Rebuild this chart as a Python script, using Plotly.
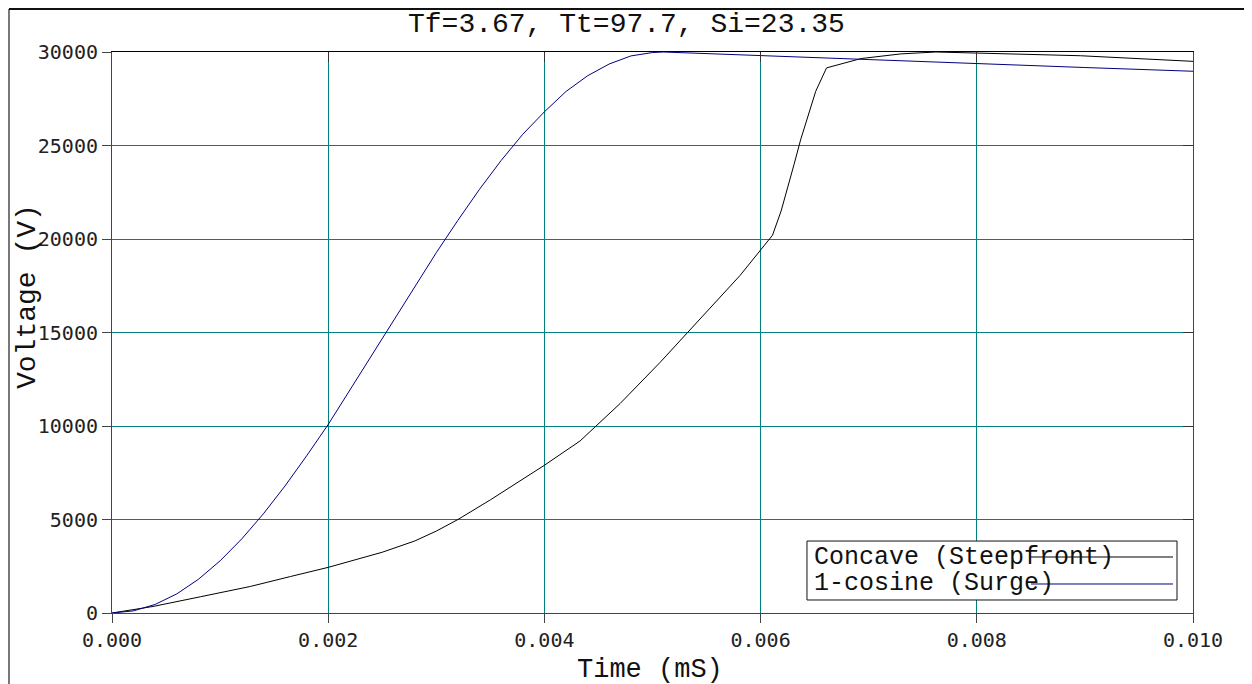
import plotly.graph_objects as go

# ---- data ----
t_concave = [0.0, 0.00038, 0.00082, 0.00128, 0.00165, 0.0020, 0.0025, 0.0028, 0.0030,
             0.0032, 0.0035, 0.0040, 0.00433, 0.0047, 0.00507, 0.00544, 0.00581, 0.00611,
             0.00619, 0.00631, 0.00637, 0.00651, 0.00661, 0.00693, 0.0073, 0.00762,
             0.0080, 0.00896, 0.0100]
v_concave = [0, 350, 870, 1420, 1950, 2440, 3250, 3850, 4380,
             5000, 6050, 7900, 9200, 11200, 13400, 15700, 18050, 20200,
             21500, 24000, 25300, 27900, 29150, 29650, 29900, 30000,
             29950, 29800, 29500]

t_cosine = [0.0, 0.0002, 0.0004, 0.0006, 0.0008, 0.0010, 0.0012, 0.0014, 0.0016, 0.0018,
            0.0020, 0.0022, 0.0024, 0.0026, 0.0028, 0.0030, 0.0032, 0.0034, 0.0036,
            0.0038, 0.0040, 0.0042, 0.0044, 0.0046, 0.0048, 0.0050, 0.0051,
            0.0060, 0.0070, 0.0080, 0.0090, 0.0100]
v_cosine = [0, 115, 460, 1025, 1805, 2790, 3960, 5300, 6790, 8400,
            10080, 11910, 13750, 15600, 17450, 19270, 21000, 22660, 24200,
            25600, 26800, 27890, 28730, 29360, 29790, 29970, 30000,
            29800, 29600, 29380, 29170, 28970]

x_ticks = [0.000, 0.002, 0.004, 0.006, 0.008, 0.010]
y_ticks = [0, 5000, 10000, 15000, 20000, 25000, 30000]

title_text = "Tf=3.67, Tt=97.7, Si=23.35"
x_title = "Time (mS)"
y_title = "Voltage (V)"
series_names = ["Concave (Steepfront)", "1-cosine (Surge)"]
series_colors = ["#000000", "#000080"]

MONO = "Liberation Mono, Courier New, monospace"
TICKFONT = "DejaVu Sans Mono, monospace"
GRID = "#008080"
AXL = "#444444"

fig = go.Figure()
fig.add_trace(go.Scatter(x=t_concave, y=v_concave, mode="lines", name=series_names[0],
                         line=dict(color=series_colors[0], width=1), showlegend=False))
fig.add_trace(go.Scatter(x=t_cosine, y=v_cosine, mode="lines", name=series_names[1],
                         line=dict(color=series_colors[1], width=1), showlegend=False))

axis_common = dict(showgrid=True, gridcolor=GRID, gridwidth=1, zeroline=False,
                   showline=True, linecolor=AXL, linewidth=1, ticks="outside",
                   ticklen=9, tickcolor=AXL, tickfont=dict(family=TICKFONT, size=20, color="#222222"))

fig.update_layout(
    width=1252, height=684,
    margin=dict(l=104, r=67, t=44, b=79, pad=0),
    paper_bgcolor="white", plot_bgcolor="white",
    showlegend=False,
    xaxis=dict(range=[0, 0.010], tickvals=x_ticks, tickformat=".3f", **axis_common),
    yaxis=dict(range=[0, 30000], tickvals=y_ticks, tickformat="d", **axis_common),
    xaxis2=dict(range=[0, 0.010], tickvals=x_ticks, overlaying="x", side="top", showgrid=False,
                zeroline=False, showline=True, linecolor="#000000", linewidth=1, ticks="inside",
                ticklen=10, tickcolor="#333333", showticklabels=False, matches="x"),
    yaxis2=dict(range=[0, 30000], tickvals=y_ticks, overlaying="y", side="right", showgrid=False,
                zeroline=False, showline=True, linecolor=AXL, linewidth=1, ticks="inside",
                ticklen=10, tickcolor="#333333", showticklabels=False, matches="y"),
)

# invisible helper trace so that the mirrored axes are drawn
fig.add_trace(go.Scatter(x=t_cosine, y=v_cosine, xaxis="x2", yaxis="y2", mode="lines",
                         line=dict(width=0, color="rgba(0,0,0,0)"), hoverinfo="skip",
                         showlegend=False))

# titles as annotations
fig.add_annotation(text=title_text, x=0.4755, y=1.0499, xref="paper", yref="paper",
                   showarrow=False, xanchor="center", yanchor="middle",
                   font=dict(family=MONO, size=28, color="#111111"))
fig.add_annotation(text=x_title, x=0.4977, y=-0.101, xref="paper", yref="paper",
                   showarrow=False, xanchor="center", yanchor="middle",
                   font=dict(family=MONO, size=27, color="#111111"))
fig.add_annotation(text=y_title, x=-0.0777, y=0.5633, xref="paper", yref="paper",
                   showarrow=False, xanchor="center", yanchor="middle", textangle=-90,
                   font=dict(family=MONO, size=28, color="#111111"))

# outer frame (left and top edges)
fig.add_shape(type="line", xref="paper", yref="paper", x0=-0.0953, x1=-0.0953, y0=1.0766, y1=-0.2,
              line=dict(color="#777777", width=2))
fig.add_shape(type="line", xref="paper", yref="paper", x0=-0.0953, x1=1.1, y0=1.0766, y1=1.0766,
              line=dict(color="#111111", width=2))

# custom legend: text first, line sample after
fig.add_shape(type="rect", xref="paper", yref="paper", x0=0.6429, x1=0.9852, y0=0.0232, y1=0.1283,
              line=dict(color="#111111", width=1), fillcolor="white", layer="above")
leg_y = [0.0998, 0.0517]
for name, col, yy in zip(series_names, series_colors, leg_y):
    fig.add_annotation(text=name, x=0.6475, y=yy, xref="paper", yref="paper", showarrow=False,
                       xanchor="left", yanchor="middle",
                       font=dict(family=MONO, size=25, color="#111111"))
    fig.add_shape(type="line", xref="paper", yref="paper", x0=0.8501, x1=0.9815, y0=yy, y1=yy,
                  line=dict(color=col, width=1), layer="above")

fig.write_html("out.html")
